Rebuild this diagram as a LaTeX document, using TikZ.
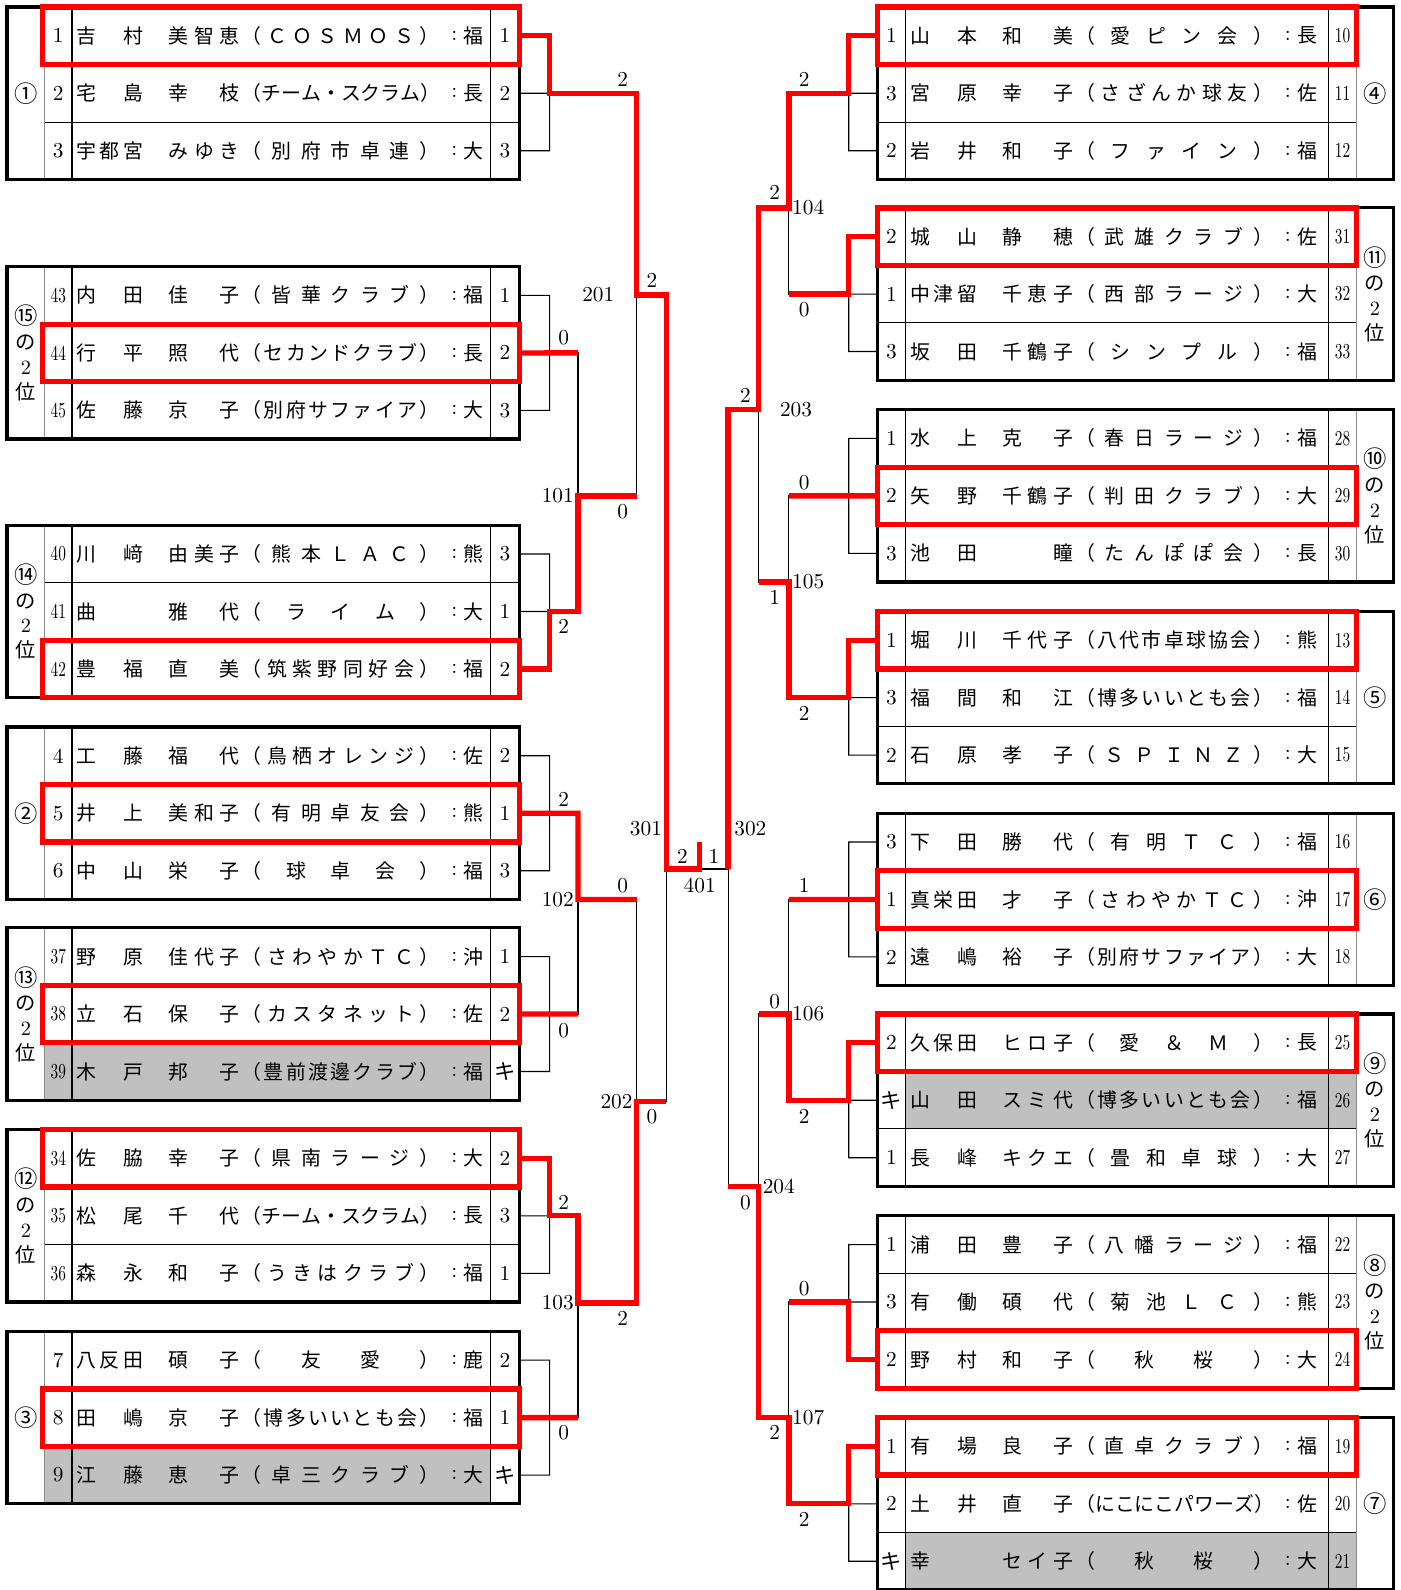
\documentclass[tikz,border=0pt]{standalone}
\usepackage{fontspec}
\usepackage{graphicx}
\newfontfamily\jp{Noto Sans CJK JP}
\definecolor{rojo}{HTML}{FF0000}
\definecolor{gris}{HTML}{C0C0C0}
\tikzset{
  every node/.style = {inner sep=0pt, text=black},
  numero/.style     = {font=\fontsize{10.5}{12}\selectfont},
  nombre/.style     = {font=\jp\fontsize{9.8}{12}\selectfont},
  rotulo/.style     = {font=\jp\fontsize{10}{12.2}\selectfont, align=center},
  tanteo/.style     = {font=\fontsize{10.5}{12}\selectfont},
  marco/.style      = {draw=black, line width=1.6pt},
  raya/.style       = {draw=black, line width=0.5pt},
  rayagris/.style   = {draw=black!45, line width=0.6pt},
  linea/.style      = {draw=black, line width=0.55pt},
  ganador/.style    = {draw=rojo, line width=2.6pt},
  resalte/.style    = {draw=rojo, line width=2.6pt},
}
% reparte los caracteres de un campo a lo ancho
\def\repartir#1#2\relax{#1\ifx\relax#2\relax\else\hfill\repartir#2\relax\fi}
\newcommand\campo[2]{\makebox[#1][s]{\expandafter\repartir#2\relax}}
\newcommand\club[1]{\makebox[97.5pt][s]{（\hfill\expandafter\repartir#1\relax\hfill）}}
\newcommand\renglon[3]{\campo{33pt}{#1}\hspace{12.5pt}\campo{35pt}{#2}\hspace{1pt}\club{#3}}
\newcommand\dd[1]{\scalebox{0.72}[1]{#1}}
\newcommand\cn[1]{{\fontsize{11.5}{12.2}\selectfont #1}}

% grupo de la izquierda: nombre, y superior, rotulo, filas
\newcommand\grupoI[4]{%
  \foreach \sem/\ape/\nom/\clu/\pre/\res/\col [count=\i] in {#4} {
    \pgfmathsetmacro\yc{#2+(\i-0.5)*56.67}
    \fill[\col] (44,{\yc-28.33}) rectangle (484,{\yc+28.33});
    \node[numero] (#1-\i-s) at (57.5,\yc) {\sem};
    \node[nombre,anchor=west] (#1-\i-n) at (75,\yc) {\renglon{\ape}{\nom}{\clu}};
    \node[numero] (#1-\i-d) at (448,\yc) {:};
    \node[nombre] (#1-\i-p) at (467,\yc) {\pre};
    \node[numero] (#1-\i-r) at (498,\yc) {\res};
    \coordinate (#1-\i) at (512,\yc);
    \coordinate (#1-\i-a) at (42,{\yc-28.33});
    \coordinate (#1-\i-b) at (512,{\yc+28.33});
  }
  \draw[raya] (44,{#2+56.67}) -- (512,{#2+56.67}) (44,{#2+113.33}) -- (512,{#2+113.33})
              (71,#2) -- (71,{#2+170}) (484,#2) -- (484,{#2+170});
  \draw[rayagris] (44,#2) -- (44,{#2+170});
  \draw[marco] (7,#2) rectangle (512,{#2+170});
  \node[rotulo] (#1-et) at (25.5,{#2+85}) {#3};
  \coordinate (#1) at (542,{#2+85});
  \draw[linea] (#1-1) -| (#1) |- (#1-3) (#1-2) -- (#1);
}

% grupo de la derecha
\newcommand\grupoD[4]{%
  \foreach \res/\ape/\nom/\clu/\pre/\sem/\col [count=\i] in {#4} {
    \pgfmathsetmacro\yc{#2+(\i-0.5)*56.67}
    \fill[\col] (893,{\yc-28.33}) rectangle (1338,{\yc+28.33});
    \node[numero] (#1-\i-r) at (879,\yc) {\res};
    \node[nombre,anchor=west] (#1-\i-n) at (897,\yc) {\renglon{\ape}{\nom}{\clu}};
    \node[numero] (#1-\i-d) at (1270,\yc) {:};
    \node[nombre] (#1-\i-p) at (1289,\yc) {\pre};
    \node[numero] (#1-\i-s) at (1324,\yc) {\sem};
    \coordinate (#1-\i) at (865,\yc);
    \coordinate (#1-\i-a) at (865,{\yc-28.33});
    \coordinate (#1-\i-b) at (1338,{\yc+28.33});
  }
  \draw[raya] (865,{#2+56.67}) -- (1338,{#2+56.67}) (865,{#2+113.33}) -- (1338,{#2+113.33})
              (893,#2) -- (893,{#2+170}) (1310,#2) -- (1310,{#2+170});
  \draw[rayagris] (1338,#2) -- (1338,{#2+170});
  \draw[marco] (865,#2) rectangle (1374,{#2+170});
  \node[rotulo] (#1-et) at (1356,{#2+85}) {#3};
  \coordinate (#1) at (837,{#2+85});
  \draw[linea] (#1-1) -| (#1) |- (#1-3) (#1-2) -- (#1);
}

\begin{document}
\begin{tikzpicture}[x=0.5pt,y=-0.5pt]
\useasboundingbox (0,0) rectangle (1381,1568);

% =============================================================================
% Grupos de la izquierda
% =============================================================================
\grupoI{L1}{7}{\cn{①}}{
  1/吉村/美智恵/ＣＯＳＭＯＳ/福/1/white,
  2/宅島/幸枝/チーム・スクラム/長/2/white,
  3/宇都宮/みゆき/別府市卓連/大/3/white}
\grupoI{L2}{263}{\cn{⑮}\\の\\{\rmfamily 2}\\位}{
  \dd{43}/内田/佳子/皆華クラブ/福/1/white,
  \dd{44}/行平/照代/セカンドクラブ/長/2/white,
  \dd{45}/佐藤/京子/別府サファイア/大/3/white}
\grupoI{L3}{518}{\cn{⑭}\\の\\{\rmfamily 2}\\位}{
  \dd{40}/川﨑/由美子/熊本ＬＡＣ/熊/3/white,
  \dd{41}/曲{\hfill}/雅代/ライム/大/1/white,
  \dd{42}/豊福/直美/筑紫野同好会/福/2/white}
\grupoI{L4}{717}{\cn{②}}{
  4/工藤/福代/鳥栖オレンジ/佐/2/white,
  5/井上/美和子/有明卓友会/熊/1/white,
  6/中山/栄子/球卓会/福/3/white}
\grupoI{L5}{915}{\cn{⑬}\\の\\{\rmfamily 2}\\位}{
  \dd{37}/野原/佳代子/さわやかＴＣ/沖/1/white,
  \dd{38}/立石/保子/カスタネット/佐/2/white,
  \dd{39}/木戸/邦子/豊前渡邊クラブ/福/{\jp キ}/gris}
\grupoI{L6}{1114}{\cn{⑫}\\の\\{\rmfamily 2}\\位}{
  \dd{34}/佐脇/幸子/県南ラージ/大/2/white,
  \dd{35}/松尾/千代/チーム・スクラム/長/3/white,
  \dd{36}/森永/和子/うきはクラブ/福/1/white}
\grupoI{L7}{1313}{\cn{③}}{
  7/八反田/碩子/友愛/鹿/2/white,
  8/田嶋/京子/博多いいとも会/福/1/white,
  9/江藤/恵子/卓三クラブ/大/{\jp キ}/gris}

% =============================================================================
% Grupos de la derecha
% =============================================================================
\grupoD{R1}{7}{\cn{④}}{
  1/山本/和美/愛ピン会/長/\dd{10}/white,
  3/宮原/幸子/さざんか球友/佐/\dd{11}/white,
  2/岩井/和子/ファイン/福/\dd{12}/white}
\grupoD{R2}{205}{\cn{⑪}\\の\\{\rmfamily 2}\\位}{
  2/城山/静穂/武雄クラブ/佐/\dd{31}/white,
  1/中津留/千恵子/西部ラージ/大/\dd{32}/white,
  3/坂田/千鶴子/シンプル/福/\dd{33}/white}
\grupoD{R3}{404}{\cn{⑩}\\の\\{\rmfamily 2}\\位}{
  1/水上/克子/春日ラージ/福/\dd{28}/white,
  2/矢野/千鶴子/判田クラブ/大/\dd{29}/white,
  3/池田/{\hfill}瞳/たんぽぽ会/長/\dd{30}/white}
\grupoD{R4}{603}{\cn{⑤}}{
  1/堀川/千代子/八代市卓球協会/熊/\dd{13}/white,
  3/福間/和江/博多いいとも会/福/\dd{14}/white,
  2/石原/孝子/ＳＰＩＮＺ/大/\dd{15}/white}
\grupoD{R5}{802}{\cn{⑥}}{
  3/下田/勝代/有明ＴＣ/福/\dd{16}/white,
  1/真栄田/才子/さわやかＴＣ/沖/\dd{17}/white,
  2/遠嶋/裕子/別府サファイア/大/\dd{18}/white}
\grupoD{R6}{1000}{\cn{⑨}\\の\\{\rmfamily 2}\\位}{
  2/久保田/ヒロ子/愛＆Ｍ/長/\dd{25}/white,
  {\jp キ}/山田/スミ代/博多いいとも会/福/\dd{26}/gris,
  1/長峰/キクエ/畳和卓球/大/\dd{27}/white}
\grupoD{R7}{1199}{\cn{⑧}\\の\\{\rmfamily 2}\\位}{
  1/浦田/豊子/八幡ラージ/福/\dd{22}/white,
  3/有働/碩代/菊池ＬＣ/熊/\dd{23}/white,
  2/野村/和子/秋桜/大/\dd{24}/white}
\grupoD{R8}{1398}{\cn{⑦}}{
  1/有場/良子/直卓クラブ/福/\dd{19}/white,
  2/土井/直子/にこにこパワーズ/佐/\dd{20}/white,
  {\jp キ}/幸{\hfill}/セイ子/秋桜/大/\dd{21}/gris}

% =============================================================================
% Cruces del cuadro
% =============================================================================
\coordinate (m101) at (570,489);
\coordinate (m102) at (570,887);
\coordinate (m103) at (570,1285);
\coordinate (m201) at (628,291);
\coordinate (m202) at (628,1086);
\coordinate (m301) at (657,857);
\coordinate (m401) at (690,857);
\coordinate (campeon) at (690,830);
\coordinate (m302) at (718,857);
\coordinate (m203) at (748,404);
\coordinate (m204) at (748,1170);
\coordinate (m104) at (778,205);
\coordinate (m105) at (778,574);
\coordinate (m106) at (778,1000);
\coordinate (m107) at (778,1398);

\draw[linea] (L2) -| (m101) |- (L3);
\draw[linea] (L4) -| (m102) |- (L5);
\draw[linea] (L6) -| (m103) |- (L7);
\draw[linea] (L1) -| (m201) |- (m101);
\draw[linea] (m102) -| (m202) |- (m103);
\draw[linea] (m201) -| (m301) |- (m202);
\draw[linea] (m301) -- (m302);
\draw[linea] (R1) -| (m104) |- (R2);
\draw[linea] (R3) -| (m105) |- (R4);
\draw[linea] (R5) -| (m106) |- (R6);
\draw[linea] (R7) -| (m107) |- (R8);
\draw[linea] (m104) -| (m203) |- (m105);
\draw[linea] (m106) -| (m204) |- (m107);
\draw[linea] (m203) -| (m302) |- (m204);

% recorridos de los ganadores
\draw[ganador] (L1-1) -| (L1) -| (m201) -| (m301) -- (m401) -- (campeon);
\draw[ganador] (L2-2) -- (L2) -- (L2 -| m101);
\draw[ganador] (L3-3) -| (L3) -| (m101) -- (m101 -| m201);
\draw[ganador] (L4-2) -- (L4) -| (m102) -- (m102 -| m202);
\draw[ganador] (L5-2) -- (L5) -- (L5 -| m102);
\draw[ganador] (L6-1) -| (L6) -| (m103) -| (m202) -- (m202 -| m301);
\draw[ganador] (L7-2) -- (L7) -- (L7 -| m103);
\draw[ganador] (R1-1) -| (R1) -| (m104) -| (m203) -| (m302);
\draw[ganador] (R2-1) -| (R2) -- (R2 -| m104);
\draw[ganador] (R3-2) -- (R3) -- (R3 -| m105);
\draw[ganador] (R4-1) -| (R4) -| (m105) -- (m105 -| m203);
\draw[ganador] (R5-2) -- (R5) -- (R5 -| m106);
\draw[ganador] (R6-1) -| (R6) -| (m106) -- (m106 -| m204);
\draw[ganador] (R7-3) -| (R7) -- (R7 -| m107);
\draw[ganador] (R8-1) -| (R8) -| (m107) -| (m204) -- (m204 -| m302);

\foreach \g in {L1-1,L2-2,L3-3,L4-2,L5-2,L6-1,L7-2,R1-1,R2-1,R3-2,R4-1,R5-2,R6-1,R7-3,R8-1}
  \draw[resalte] (\g-a) rectangle (\g-b);

% tanteos y numeros de partido
\foreach \x/\y/\t [count=\k] in {614/78/2, 643/277/2, 556/333/0, 614/505/0, 556/618/2,
    556/788/2, 673/845/2, 704/845/1, 614/873/0, 556/1016/0, 643/1101/0, 556/1186/2,
    614/1300/2, 556/1413/0, 793/78/2, 764/190/2, 793/305/0, 735/390/2, 793/476/0,
    764/589/1, 793/704/2, 793/873/1, 764/988/0, 793/1101/2, 735/1186/0, 793/1271/0,
    764/1413/2, 793/1498/2}
  \node[tanteo] (s\k) at (\x,\y) {\t};
\foreach \x/\y/\t in {550/489/101, 550/887/102, 550/1285/103, 590/291/201, 608/1086/202,
    637/817/301, 690/873/401, 797/205/104, 797/574/105, 797/1000/106, 797/1398/107,
    785/404/203, 768/1170/204, 740/817/302}
  \node[tanteo] (p\t) at (\x,\y) {\t};

\end{tikzpicture}
\end{document}
